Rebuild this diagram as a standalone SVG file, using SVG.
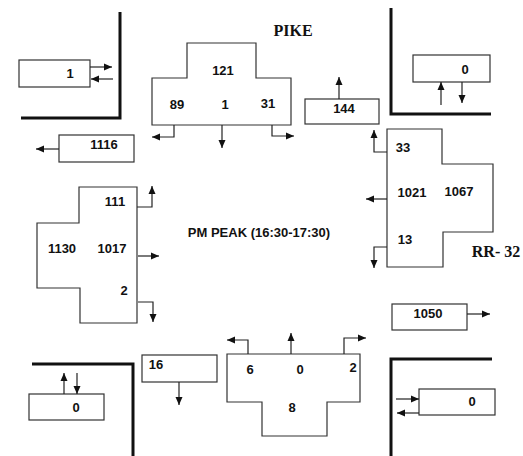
<svg xmlns="http://www.w3.org/2000/svg" width="523" height="456" viewBox="0 0 523 456">
<defs>
<marker id="ah" viewBox="0 0 8 8" refX="8" refY="4" markerWidth="8" markerHeight="8" markerUnits="userSpaceOnUse" orient="auto">
<path d="M0,0.5 L8,4 L0,7.5 z" fill="#111"/>
</marker>
<style>
.box{fill:#fff;stroke:#333;stroke-width:1.2}
.curb{fill:none;stroke:#111;stroke-width:3}
.arr{fill:none;stroke:#222;stroke-width:1.2;marker-end:url(#ah)}
.n{font-family:"Liberation Sans",Arial,sans-serif;font-weight:bold;font-size:13px;fill:#111;text-anchor:middle}
.t{font-family:"Liberation Serif","Times New Roman",serif;font-weight:bold;font-size:16px;fill:#111;text-anchor:middle}
</style>
</defs>
<rect width="523" height="456" fill="#fff"/>

<g id="corners">
<path class="curb" d="M120,12 V118 H21"/>
<path class="curb" d="M391,8 V114 H491"/>
<path class="curb" d="M32,364 H133 V456"/>
<path class="curb" d="M492,359 H391 V456"/>
</g>

<g id="labels">
<text class="t" x="293" y="36">PIKE</text>
<text class="t" x="496" y="257">RR- 32</text>
<text class="n" x="259" y="237" style="font-size:13px">PM PEAK (16:30-17:30)</text>
</g>

<g id="node-nw-box">
<rect class="box" x="19" y="60" width="71" height="27"/>
<text class="n" x="70" y="78">1</text>
</g>
<g id="node-1116">
<rect class="box" x="59" y="135" width="75" height="27"/>
<text class="n" x="104" y="149">1116</text>
</g>
<g id="node-pike">
<path class="box" d="M187,43 H256 V78 H291 V125 H152 V78 H187 Z"/>
<text class="n" x="223" y="75">121</text>
<text class="n" x="177" y="109">89</text>
<text class="n" x="225" y="109">1</text>
<text class="n" x="268" y="108">31</text>
</g>
<g id="node-144">
<rect class="box" x="305" y="99" width="74" height="25"/>
<text class="n" x="344" y="113">144</text>
</g>
<g id="node-ne-box">
<rect class="box" x="413" y="55" width="77" height="27"/>
<text class="n" x="465" y="74">0</text>
</g>
<g id="node-rr32">
<path class="box" d="M387,129 H442 V164 H493 V232 H443 V267 H387 Z"/>
<text class="n" x="403" y="152">33</text>
<text class="n" x="412" y="197">1021</text>
<text class="n" x="459" y="196">1067</text>
<text class="n" x="405" y="244">13</text>
</g>
<g id="node-1050">
<rect class="box" x="392" y="304" width="75" height="26"/>
<text class="n" x="428" y="318">1050</text>
</g>
<g id="node-west">
<path class="box" d="M79,187 H137 V323 H80 V288 H37 V223 H79 Z"/>
<text class="n" x="115" y="206">111</text>
<text class="n" x="62" y="253">1130</text>
<text class="n" x="112" y="253">1017</text>
<text class="n" x="124" y="295">2</text>
</g>
<g id="node-16">
<rect class="box" x="142" y="355" width="75" height="27"/>
<text class="n" x="156" y="369">16</text>
</g>
<g id="node-sw-box">
<rect class="box" x="29" y="394" width="75" height="26"/>
<text class="n" x="76" y="412">0</text>
</g>
<g id="node-south">
<path class="box" d="M227,354 H360 V402 H327 V436 H262 V402 H227 Z"/>
<text class="n" x="250" y="374">6</text>
<text class="n" x="300" y="374">0</text>
<text class="n" x="353" y="372">2</text>
<text class="n" x="292" y="412">8</text>
</g>
<g id="node-se-box">
<rect class="box" x="419" y="389" width="76" height="26"/>
<text class="n" x="472" y="406">0</text>
</g>

<g id="connectors">
<path class="arr" d="M90,67 H112"/>
<path class="arr" d="M113,79 H91"/>
<path class="arr" d="M59,149 H36"/>
<path class="arr" d="M174,125 V137 H152"/>
<path class="arr" d="M222,125 V148"/>
<path class="arr" d="M272,125 V136 H294"/>
<path class="arr" d="M339,99 V77"/>
<path class="arr" d="M441,105 V82"/>
<path class="arr" d="M462,82 V103"/>
<path class="arr" d="M387,152 H374 V130"/>
<path class="arr" d="M387,199 H366"/>
<path class="arr" d="M387,247 H374 V268"/>
<path class="arr" d="M467,314 H490"/>
<path class="arr" d="M137,207 H152 V186"/>
<path class="arr" d="M138,256 H159"/>
<path class="arr" d="M138,302 H153 V322"/>
<path class="arr" d="M179,382 V405"/>
<path class="arr" d="M64,394 V373"/>
<path class="arr" d="M77,373 V394"/>
<path class="arr" d="M248,354 V340 H227"/>
<path class="arr" d="M291,354 V333"/>
<path class="arr" d="M344,354 V338 H366"/>
<path class="arr" d="M396,399 H419"/>
<path class="arr" d="M419,413 H397"/>
</g>
</svg>
